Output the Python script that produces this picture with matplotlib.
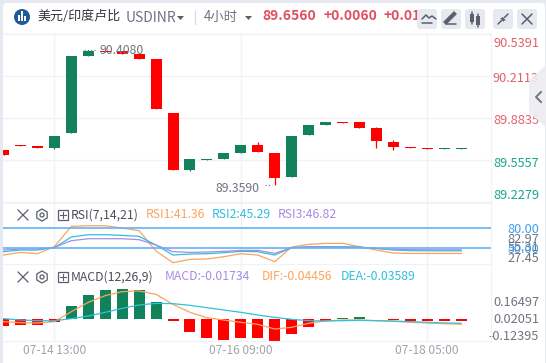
import numpy as np
import matplotlib
matplotlib.use('Agg')
import matplotlib.pyplot as plt
from matplotlib.patches import Rectangle, FancyBboxPatch, Circle, Polygon, RegularPolygon
from matplotlib.transforms import ScaledTranslation

plt.rcParams['font.family'] = ['Noto Sans CJK SC', 'DejaVu Sans']

# ---------- data ----------
opens  = [89.6337,89.6728,89.6650,89.6494,89.7664,90.3674,90.4080,90.4064,90.3830,90.3440,89.9225,89.4776,89.5557,89.5635,
          89.6103,89.6728,89.6103,89.4230,89.7508,89.8289,89.8523,89.8523,89.8055,89.6962,89.6572,89.6494,89.6416,89.6416]
closes = [89.5947,89.6650,89.6494,89.7430,90.3674,90.4064,90.4000,90.3830,90.3440,89.9561,89.4776,89.5635,89.5635,89.6103,
          89.6728,89.6181,89.4152,89.7430,89.8289,89.8523,89.8445,89.8055,89.7040,89.6572,89.6494,89.6416,89.6494,89.6494]
highs  = [89.6337,89.6728,89.6650,89.7430,90.3674,90.4080,90.4080,90.4064,90.3830,90.3440,89.9225,89.5635,89.5635,89.6103,
          89.6728,89.6962,89.6103,89.7430,89.8289,89.8523,89.8523,89.8523,89.8133,89.7118,89.6572,89.6494,89.6494,89.6494]
lows   = [89.5947,89.6650,89.6494,89.6416,89.7664,90.3674,90.4000,90.3830,90.3440,89.9561,89.4776,89.4699,89.5557,89.5635,
          89.6103,89.6181,89.3590,89.4230,89.7508,89.8289,89.8445,89.8055,89.6494,89.6337,89.6494,89.6416,89.6416,89.6416]
rsi1 = [39,43,41,51.5,82,82.97,82.9,79.5,75.5,45,27.45,32.5,33,36.5,41,39,29,51,55,56.5,56.5,51.5,46.5,42,41.4,41.4,41.36,41.36]
rsi2 = [44,46.5,46.5,50,66,69.5,69.5,68.5,67,54,39,40.5,41,42.5,44.5,44,39,50,51.5,51.5,51.5,51,49,46.5,45.6,45.4,45.3,45.29]
rsi3 = [46.5,48,48,50.5,60.5,63.5,63.5,63.5,62,54,44,43,43.5,44.5,46,46,41.5,50,51,51,51,50.5,49,47.5,47,46.9,46.85,46.82]
macd_hist = [-.057,-.051,-.051,-.028,.110,.204,.246,.255,.246,.144,-.017,-.110,-.161,-.178,-.161,-.161,-.187,-.127,-.068,-.017,
             .005,.017,.004,-.010,-.017,-.020,-.020,-.01734]
dif = [-.0227,-.0312,-.0340,-.0227,.0623,.1417,.1983,.2323,.2380,.2096,.1247,.0567,.0113,-.0085,-.0283,-.0453,-.0850,-.0708,
       -.0368,-.0170,-.0085,-.0085,-.0142,-.0198,-.0283,-.0340,-.0397,-.04456]
dea = [.0028,-.0085,-.0142,-.0142,.0028,.0255,.0567,.0907,.1190,.1332,.1303,.1162,.0963,.0765,.0567,.0340,.0142,-.0028,
       -.0142,-.0170,-.0142,-.0113,-.0142,-.0170,-.0227,-.0283,-.0340,-.03589]
price_ticks = [90.5391,90.2113,89.8835,89.5557,89.2279]
price_labels = ['90.5391','90.2113','89.8835','89.5557','89.2279']
rsi_ticks = [82.97,80.00,55.31,50.00,27.45]
macd_ticks = [0.16497,0.02051,-0.12395]
time_pos = [3,14,25]
time_labels = ['07-14 13:00','07-16 09:00','07-18 05:00']

# ---------- layout helpers ----------
W,H = 546,363
fig = plt.figure(figsize=(W/100,H/100),dpi=100,facecolor='white')
def px_axes(x0,y0,x1,y1,**k):
    return fig.add_axes([x0/W,1-y1/H,(x1-x0)/W,(y1-y0)/H],**k)
def shift_labels(ax,shifts):
    for t,s in zip(ax.yaxis.get_major_ticks(),shifts):
        t.label2.set_transform(t.label2.get_transform()+ScaledTranslation(0,-s/100,fig.dpi_scale_trans))
        t.label2.set_ha('right')

RED='#ff0000'; GREEN='#118259'; GRID='#f1f2f6'
C1='#f9a45e'; C2='#2fc0dc'; C3='#a78be6'; BLUE='#63b2f6'; GRAY='#6f7480'
X0,X1 = 3,491
xs = np.arange(len(opens))
step=16.95
xlim=((X0-3.5)/step,(X1-3.5)/step)
BW=11/step
PAD=(539-X1)*0.72

# background chrome
bg = fig.add_axes([0,0,1,1],zorder=-5)
bg.set_xlim(0,W); bg.set_ylim(H,0); bg.axis('off')
bg.add_patch(Rectangle((0,0),W,H,fc='#e6e9f0',ec='none'))
bg.add_patch(FancyBboxPatch((6,6),W-10,H,boxstyle='round,pad=3,rounding_size=4',fc='white',ec='none'))
bg.plot([3,X1],[33,33],color='#f6f7f9',lw=0.8)

def style(ax):
    ax.set_xlim(*xlim)
    ax.patch.set_alpha(0)
    for s in ax.spines.values(): s.set_visible(False)
    ax.spines['right'].set_visible(True); ax.spines['right'].set_color(GRID)
    ax.spines['bottom'].set_visible(True); ax.spines['bottom'].set_color(GRID)
    ax.yaxis.tick_right()
    ax.set_xticks(time_pos)
    ax.tick_params(axis='both',length=0)
    ax.tick_params(axis='x',labelbottom=False)
    ax.grid(axis='x',color=GRID,lw=1)
    ax.set_axisbelow(True)

# price panel
a = px_axes(X0,34,X1,203)
style(a)
ppx=0.3278/42
a.set_ylim(90.2113-(203-76)*ppx,90.2113+(76-34)*ppx)
a.grid(axis='y',color=GRID,lw=1)
for i in xs:
    o,c,h,l = opens[i],closes[i],highs[i],lows[i]
    col = GREEN if c>=o else RED
    a.vlines(i,l,h,color=col,lw=0.9,zorder=2)
    b = min(o,c); ht = max(abs(c-o),ppx)
    a.bar(i,ht,BW,bottom=b,color=col,lw=0,zorder=3)
a.set_yticks(price_ticks,price_labels,fontsize=9.2)
a.tick_params(axis='y',pad=PAD,length=0)
for t,col in zip(a.yaxis.get_major_ticks(),['#e2606e']*3+['#19a68e']*2):
    t.label2.set_color(col)
shift_labels(a,[8,1,1,2,-8])
a.text(5.65,90.408,'90.4080',fontsize=8.8,color=GRAY,va='center',ha='left',zorder=5)
a.plot([4.75,5.5],[90.416,90.416],color=GRAY,lw=0.8,ls=(0,(1,2)),zorder=5)
a.text(15.13,89.337,'89.3590',fontsize=8.8,color=GRAY,va='center',ha='right',zorder=5)
a.plot([15.43,15.85],[89.36,89.36],color=GRAY,lw=0.8,ls=(0,(1,2)),zorder=5)

# RSI panel
r = px_axes(X0,204,X1,264)
style(r)
r.set_ylim(80-(264-227.7)*1.5,80+(227.7-204)*1.5)
r.plot(xs,rsi1,color=C1,lw=0.9)
r.plot(xs,rsi2,color=C2,lw=0.9)
r.plot(xs,rsi3,color=C3,lw=0.9)
r.axhline(80,color=BLUE,lw=1.2,zorder=4)
r.axhline(50,color=BLUE,lw=1.2,zorder=4)
r.set_yticks(rsi_ticks,['82.97','80.00','55.31','50.00','27.45'],fontsize=9.2)
r.tick_params(axis='y',pad=PAD,length=0)
for t,col in zip(r.yaxis.get_major_ticks(),[GRAY,'#3f9ff2',GRAY,'#3f9ff2',GRAY]):
    t.label2.set_color(col)
shift_labels(r,[12,0.5,2,0.5,-5.5])

# MACD panel
m = px_axes(X0,264,X1,341)
style(m)
mpx=0.0085
m.set_ylim(-22*mpx,55*mpx)
m.bar(xs,macd_hist,BW,color=[GREEN if v>0 else RED for v in macd_hist],lw=0,zorder=2)
m.plot(xs,dif,color=C1,lw=0.9,zorder=3)
m.plot(xs,dea,color=C2,lw=0.9,zorder=3)
m.set_yticks(macd_ticks,['0.16497','0.02051','-0.12395'],fontsize=9.2)
m.tick_params(axis='y',pad=PAD,length=0,labelcolor=GRAY)
shift_labels(m,[1,1,1])
m.set_xticks(time_pos,time_labels,fontsize=8.6,color='#a0a4ae')
m.tick_params(axis='x',labelbottom=True,pad=2,length=0,labelcolor='#a0a4ae')

# overlay chrome
o = fig.add_axes([0,0,1,1],zorder=10)
o.set_xlim(0,W); o.set_ylim(H,0); o.axis('off'); o.patch.set_alpha(0)
DK='#5a5f6b'
o.add_patch(Circle((22,17),8,fc='#1f5b98',ec='none'))
for x,h in [(19,4),(22,6),(25,3)]:
    o.add_patch(Rectangle((x-1,21-h*1.6),2,h*1.6,fc='white',ec='none'))
o.text(37,16.5,'美元/印度卢比',fontsize=9.4,color='#333640',va='center')
o.text(126,18,'USDINR',fontsize=10,color='#6f7480',va='center')
o.add_patch(Polygon([(177,16),(184,16),(180.5,20)],fc=DK,ec='none'))
o.plot([195,195],[11,24],color='#d5d8df',lw=0.8)
o.text(204,16.5,'4小时',fontsize=9.6,color='#6f7480',va='center')
o.add_patch(Polygon([(245,16),(252,16),(248.5,20)],fc=DK,ec='none'))
o.text(262,16,'89.6560',fontsize=10,color='#e04f5f',va='center',fontweight='bold')
o.text(323,16,'+0.0060',fontsize=10,color='#e04f5f',va='center',fontweight='bold')
o.text(384,16,'+0.01%',fontsize=10,color='#e04f5f',va='center',fontweight='bold')
o.add_patch(Rectangle((415,6),125,25,fc='white',ec='none',zorder=2))
for x in [417,441,465,493,517]:
    o.add_patch(FancyBboxPatch((x+2,11),16,16,boxstyle='round,pad=2,rounding_size=3',fc='#e6e9f0',ec='none',zorder=3))
ic=dict(color=DK,lw=1.1,zorder=4,solid_capstyle='round')
o.plot([422,426,429,432,436],[19,15,18,16,19],**ic); o.plot([422,432],[23,23],**ic)
o.plot([446,454],[22,14],color=DK,lw=3,zorder=4); o.plot([446,456],[24,24],**ic)
for x,y,h in [(472,14,8),(478,16,9)]:
    o.add_patch(Rectangle((x-2,y),4,h,fc=DK,ec='none',zorder=4)); o.plot([x,x],[y-2,y+h+2],**ic)
o.plot([498,501.5],[24,20.5],**ic); o.plot([504.5,508],[17.5,14],**ic)
o.add_patch(Polygon([(500,17.5),(504,17.5),(504,21.5)],fc=DK,ec='none',zorder=4))
o.add_patch(Polygon([(502,20.5),(506,20.5),(502,16.5)],fc=DK,ec='none',zorder=4))
o.plot([522,532],[14,24],**ic); o.plot([522,532],[24,14],**ic)
# side tab
o.add_patch(Polygon([(546,65),(529,80),(529,113),(546,127)],fc='#ebebf1',ec='none',alpha=0.9))
o.plot([541,536,541],[92,97,102],color='#6d7488',lw=1.4)
# panel headers
def head(y,name,items):
    o.plot([18,28],[y-5,y+5],color=DK,lw=0.9); o.plot([18,28],[y+5,y-5],color=DK,lw=0.9)
    o.add_patch(RegularPolygon((42,y),6,radius=6,fc='none',ec=DK,lw=0.9))
    o.add_patch(Circle((42,y),2,fc='none',ec=DK,lw=0.9))
    o.add_patch(Rectangle((58,y-5),10,10,fc='none',ec=DK,lw=0.9))
    o.plot([60,66],[y,y],color=DK,lw=0.8); o.plot([63,63],[y-3,y+3],color=DK,lw=0.8)
    o.text(71,y,name,fontsize=8.8,color='#4a4e58',va='center')
    for x,s,c in items:
        o.text(x,y,s,fontsize=8.8,color=c,va='center')
head(215,'RSI(7,14,21)',[(146,'RSI1:41.36',C1),(212,'RSI2:45.29',C2),(278,'RSI3:46.82',C3)])
head(277,'MACD(12,26,9)',[(165,'MACD:-0.01734',C3),(262,'DIF:-0.04456',C1),(341,'DEA:-0.03589',C2)])

fig.savefig('out.png',dpi=100)
